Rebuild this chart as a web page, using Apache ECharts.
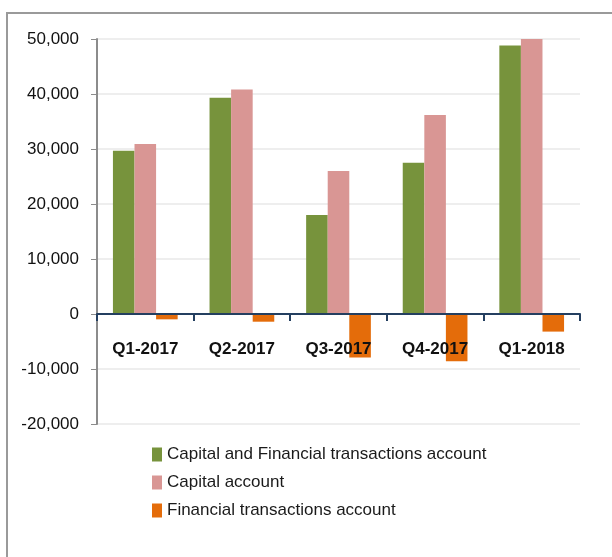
<!DOCTYPE html>
<html>
<head>
<meta charset="utf-8">
<script src="https://cdn.jsdelivr.net/npm/echarts@6/dist/echarts.min.js"></script>
<style>
  html, body { margin: 0; padding: 0; background: #fff; }
  #chart { width: 612px; height: 557px; }
</style>
</head>
<body>
<div id="chart"></div>
<script>
const categories = ["Q1-2017", "Q2-2017", "Q3-2017", "Q4-2017", "Q1-2018"];
const seriesNames = [
  "Capital and Financial transactions account",
  "Capital account",
  "Financial transactions account",
];
const capitalAndFinancial = [29700, 39300, 18000, 27500, 48800];
const capitalAccount = [30900, 40800, 26000, 36200, 50300];
const financialTransactions = [-970, -1400, -7900, -8600, -3200];
const colors = ["#77933c", "#d99694", "#e46c0a"];

const font = "'Liberation Sans', Arial, sans-serif";

const chart = echarts.init(document.getElementById("chart"), undefined, { renderer: "canvas" });

const values = [capitalAndFinancial, capitalAccount, financialTransactions];

chart.setOption({
  animation: false,
  color: colors,
  graphic: [
    {
      type: "rect",
      shape: { x: 7, y: 13, width: 620, height: 560 },
      style: { fill: "none", stroke: "#9a9a9a", lineWidth: 2 },
      silent: true,
    },
  ],
  grid: { left: 97, right: 32, top: 39, bottom: 133 },
  legend: {
    orient: "vertical",
    left: 147,
    top: 441,
    icon: "rect",
    itemWidth: 10,
    itemHeight: 14,
    itemGap: 11,
    textStyle: { fontFamily: font, fontSize: 17, color: "#1a1a1a" },
    data: seriesNames,
  },
  xAxis: {
    type: "category",
    z: 5,
    data: categories,
    axisLine: { onZero: true, lineStyle: { color: "#243f60", width: 2 } },
    axisTick: { show: true, length: 7, lineStyle: { color: "#243f60", width: 2 } },
    axisLabel: { fontFamily: font, fontSize: 17, fontWeight: "bold", color: "#111", margin: -83 },
    splitLine: { show: false },
  },
  yAxis: {
    type: "value",
    min: -20000,
    max: 50000,
    interval: 10000,
    axisLine: { show: true, lineStyle: { color: "#8c8c8c", width: 2 } },
    axisTick: { show: true, length: 6, lineStyle: { color: "#8c8c8c", width: 1 } },
    axisLabel: {
      fontFamily: font,
      fontSize: 17,
      color: "#111",
      margin: 18,
      formatter: (v) => v.toLocaleString("en-US"),
    },
    splitLine: { show: true, lineStyle: { color: "#eeeeee", width: 2 } },
  },
  series: seriesNames.map((name, i) => ({
    name,
    type: "bar",
    data: values[i],
    barGap: "0%",
    barCategoryGap: "33%",
    itemStyle: { color: colors[i] },
  })),
});
</script>
</body>
</html>
